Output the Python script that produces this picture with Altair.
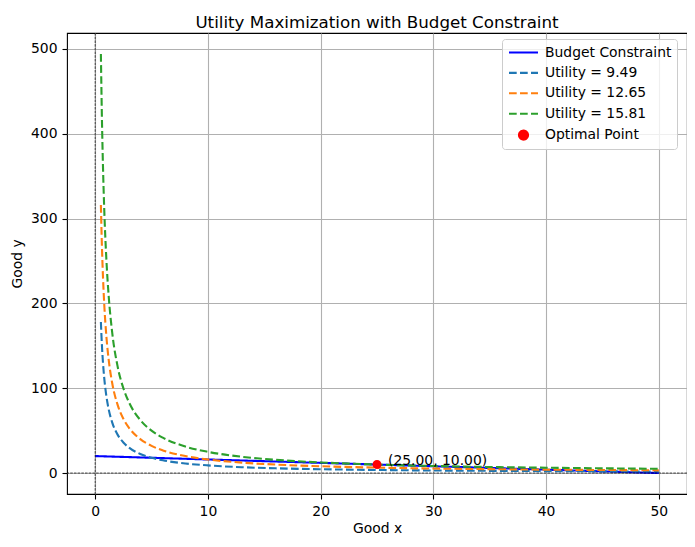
import altair as alt
import pandas as pd

# ---- data ----
series_names = ["Budget Constraint", "Utility = 9.49", "Utility = 12.65", "Utility = 15.81", "Optimal Point"]
series_colors = ["#0000ff", "#1f77b4", "#ff7f0e", "#2ca02c", "#ff0000"]

budget_x = [0, 50]
budget_y = [20, 0]

curve_x = [0.506, 0.6, 0.7, 0.8, 1.0, 1.2, 1.5, 2.0, 2.5, 3.0, 4.0, 5.0, 6.0, 8.0,
           10.0, 13.0, 16.0, 20.0, 25.0, 30.0, 35.0, 40.0, 45.0, 50.0]
util_949 = [178, 150, 128.6, 112.5, 90, 75, 60, 45, 36, 30, 22.5, 18, 15, 11.25,
            9, 6.9, 5.6, 4.5, 3.6, 3.0, 2.6, 2.25, 2.0, 1.8]
util_1265 = [316, 266.7, 228.6, 200, 160, 133.3, 106.7, 80, 64, 53.3, 40, 32, 26.7, 20,
             16, 12.3, 10, 8, 6.4, 5.3, 4.6, 4.0, 3.6, 3.2]
util_1581 = [494, 416.7, 357.1, 312.5, 250, 208.3, 166.7, 125, 100, 83.3, 62.5, 50, 41.7, 31.25,
             25, 19.2, 15.6, 12.5, 10, 8.3, 7.1, 6.25, 5.6, 5.0]

opt_x = [25.0]
opt_y = [10.0]
opt_label = ["(25.00, 10.00)"]

x_ticks = [0, 10, 20, 30, 40, 50]
y_ticks = [0, 100, 200, 300, 400, 500]

# ---- tables ----
rows = []
for xv, yv in zip(budget_x, budget_y):
    rows.append({"x": xv, "y": yv, "series": series_names[0], "o": 0})
for name, ys, o in [(series_names[1], util_949, 1), (series_names[2], util_1265, 2), (series_names[3], util_1581, 3)]:
    for xv, yv in zip(curve_x, ys):
        rows.append({"x": xv, "y": yv, "series": name, "o": o})
lines_df = pd.DataFrame(rows)
pt_df = pd.DataFrame({"x": opt_x, "y": opt_y, "series": [series_names[4]], "label": opt_label})
zero_df = pd.DataFrame({"v": [0]})

FONT = "DejaVu Sans"
xscale = alt.Scale(domain=[-2.5, 52.5], nice=False, zero=False)
yscale = alt.Scale(domain=[-24.7, 518.7], nice=False, zero=False)

stroke_path = "M-2,0L2,0"
circle_path = "M-0.62,0A0.62,0.62,0,1,1,0.62,0A0.62,0.62,0,1,1,-0.62,0Z"

color_scale = alt.Scale(domain=series_names, range=series_colors)
dash_scale = alt.Scale(domain=series_names, range=[[1, 0], [7.7, 3.3], [7.7, 3.3], [7.7, 3.3], [1, 0]])
shape_scale = alt.Scale(domain=series_names, range=[stroke_path] * 4 + [circle_path])

xaxis = alt.Axis(values=x_ticks, title="Good x", grid=True)
yaxis = alt.Axis(values=y_ticks, title="Good y", grid=True)

legend = alt.Legend(
    title=None, orient="none", legendX=435, legendY=6,
    fillColor="rgba(255,255,255,0.8)", strokeColor="#cccccc", cornerRadius=3,
    padding=5, rowPadding=4.4, symbolOffset=8, labelOffset=13,
    labelFontSize=13.9, labelFont=FONT, labelColor="#000000",
    symbolSize=210, symbolStrokeWidth=2.1,
)

lines = alt.Chart(lines_df).mark_line(strokeWidth=2.1, interpolate="monotone").encode(
    x=alt.X("x:Q", scale=xscale, axis=xaxis),
    y=alt.Y("y:Q", scale=yscale, axis=yaxis),
    color=alt.Color("series:N", scale=color_scale, legend=legend),
    strokeDash=alt.StrokeDash("series:N", scale=dash_scale, legend=legend),
    order="o:Q",
)

point = alt.Chart(pt_df).mark_point(filled=True, size=210, opacity=1, strokeWidth=0).encode(
    x=alt.X("x:Q", scale=xscale),
    y=alt.Y("y:Q", scale=yscale),
    color=alt.Color("series:N", scale=color_scale, legend=legend),
    shape=alt.Shape("series:N", scale=shape_scale, legend=legend),
)

label = alt.Chart(pt_df).mark_text(align="left", baseline="alphabetic", dx=11, dy=0,
                                   fontSize=13.9, font=FONT, color="#000000").encode(
    x=alt.X("x:Q", scale=xscale),
    y=alt.Y("y:Q", scale=yscale),
    text="label:N",
)

vline = alt.Chart(zero_df).mark_rule(color="#000000", strokeWidth=0.7, strokeDash=[2.6, 1.1]).encode(
    x=alt.X("v:Q", scale=xscale)
)
hline = alt.Chart(zero_df).mark_rule(color="#000000", strokeWidth=0.7, strokeDash=[2.6, 1.1]).encode(
    y=alt.Y("v:Q", scale=yscale)
)

chart = alt.layer(lines, point, label, vline, hline).properties(
    width=620, height=461,
    title=alt.TitleParams("Utility Maximization with Budget Constraint", anchor="middle",
                          font=FONT, fontSize=16.7, fontWeight="normal", color="#000000",
                          baseline="bottom", offset=5, dy=21, frame="group"),
    autosize=alt.AutoSizeParams(type="none"),
    padding={"left": 59, "top": 25, "right": 0, "bottom": 45},
).configure_view(
    stroke="#000000", strokeWidth=1.1
).configure_axis(
    domain=False, gridColor="#b0b0b0", gridWidth=1.1, gridOpacity=1,
    tickColor="#000000", tickWidth=1.1, tickSize=5,
    labelFont=FONT, labelFontSize=13.9, labelColor="#000000", labelPadding=5,
    titleFont=FONT, titleFontSize=13.9, titleColor="#000000", titleFontWeight="normal",
    labelFlush=False, labelOverlap=False,
).configure_axisX(titlePadding=4).configure_axisY(titlePadding=6)

chart.save("out.html", embed_options={"renderer": "svg", "actions": False})
